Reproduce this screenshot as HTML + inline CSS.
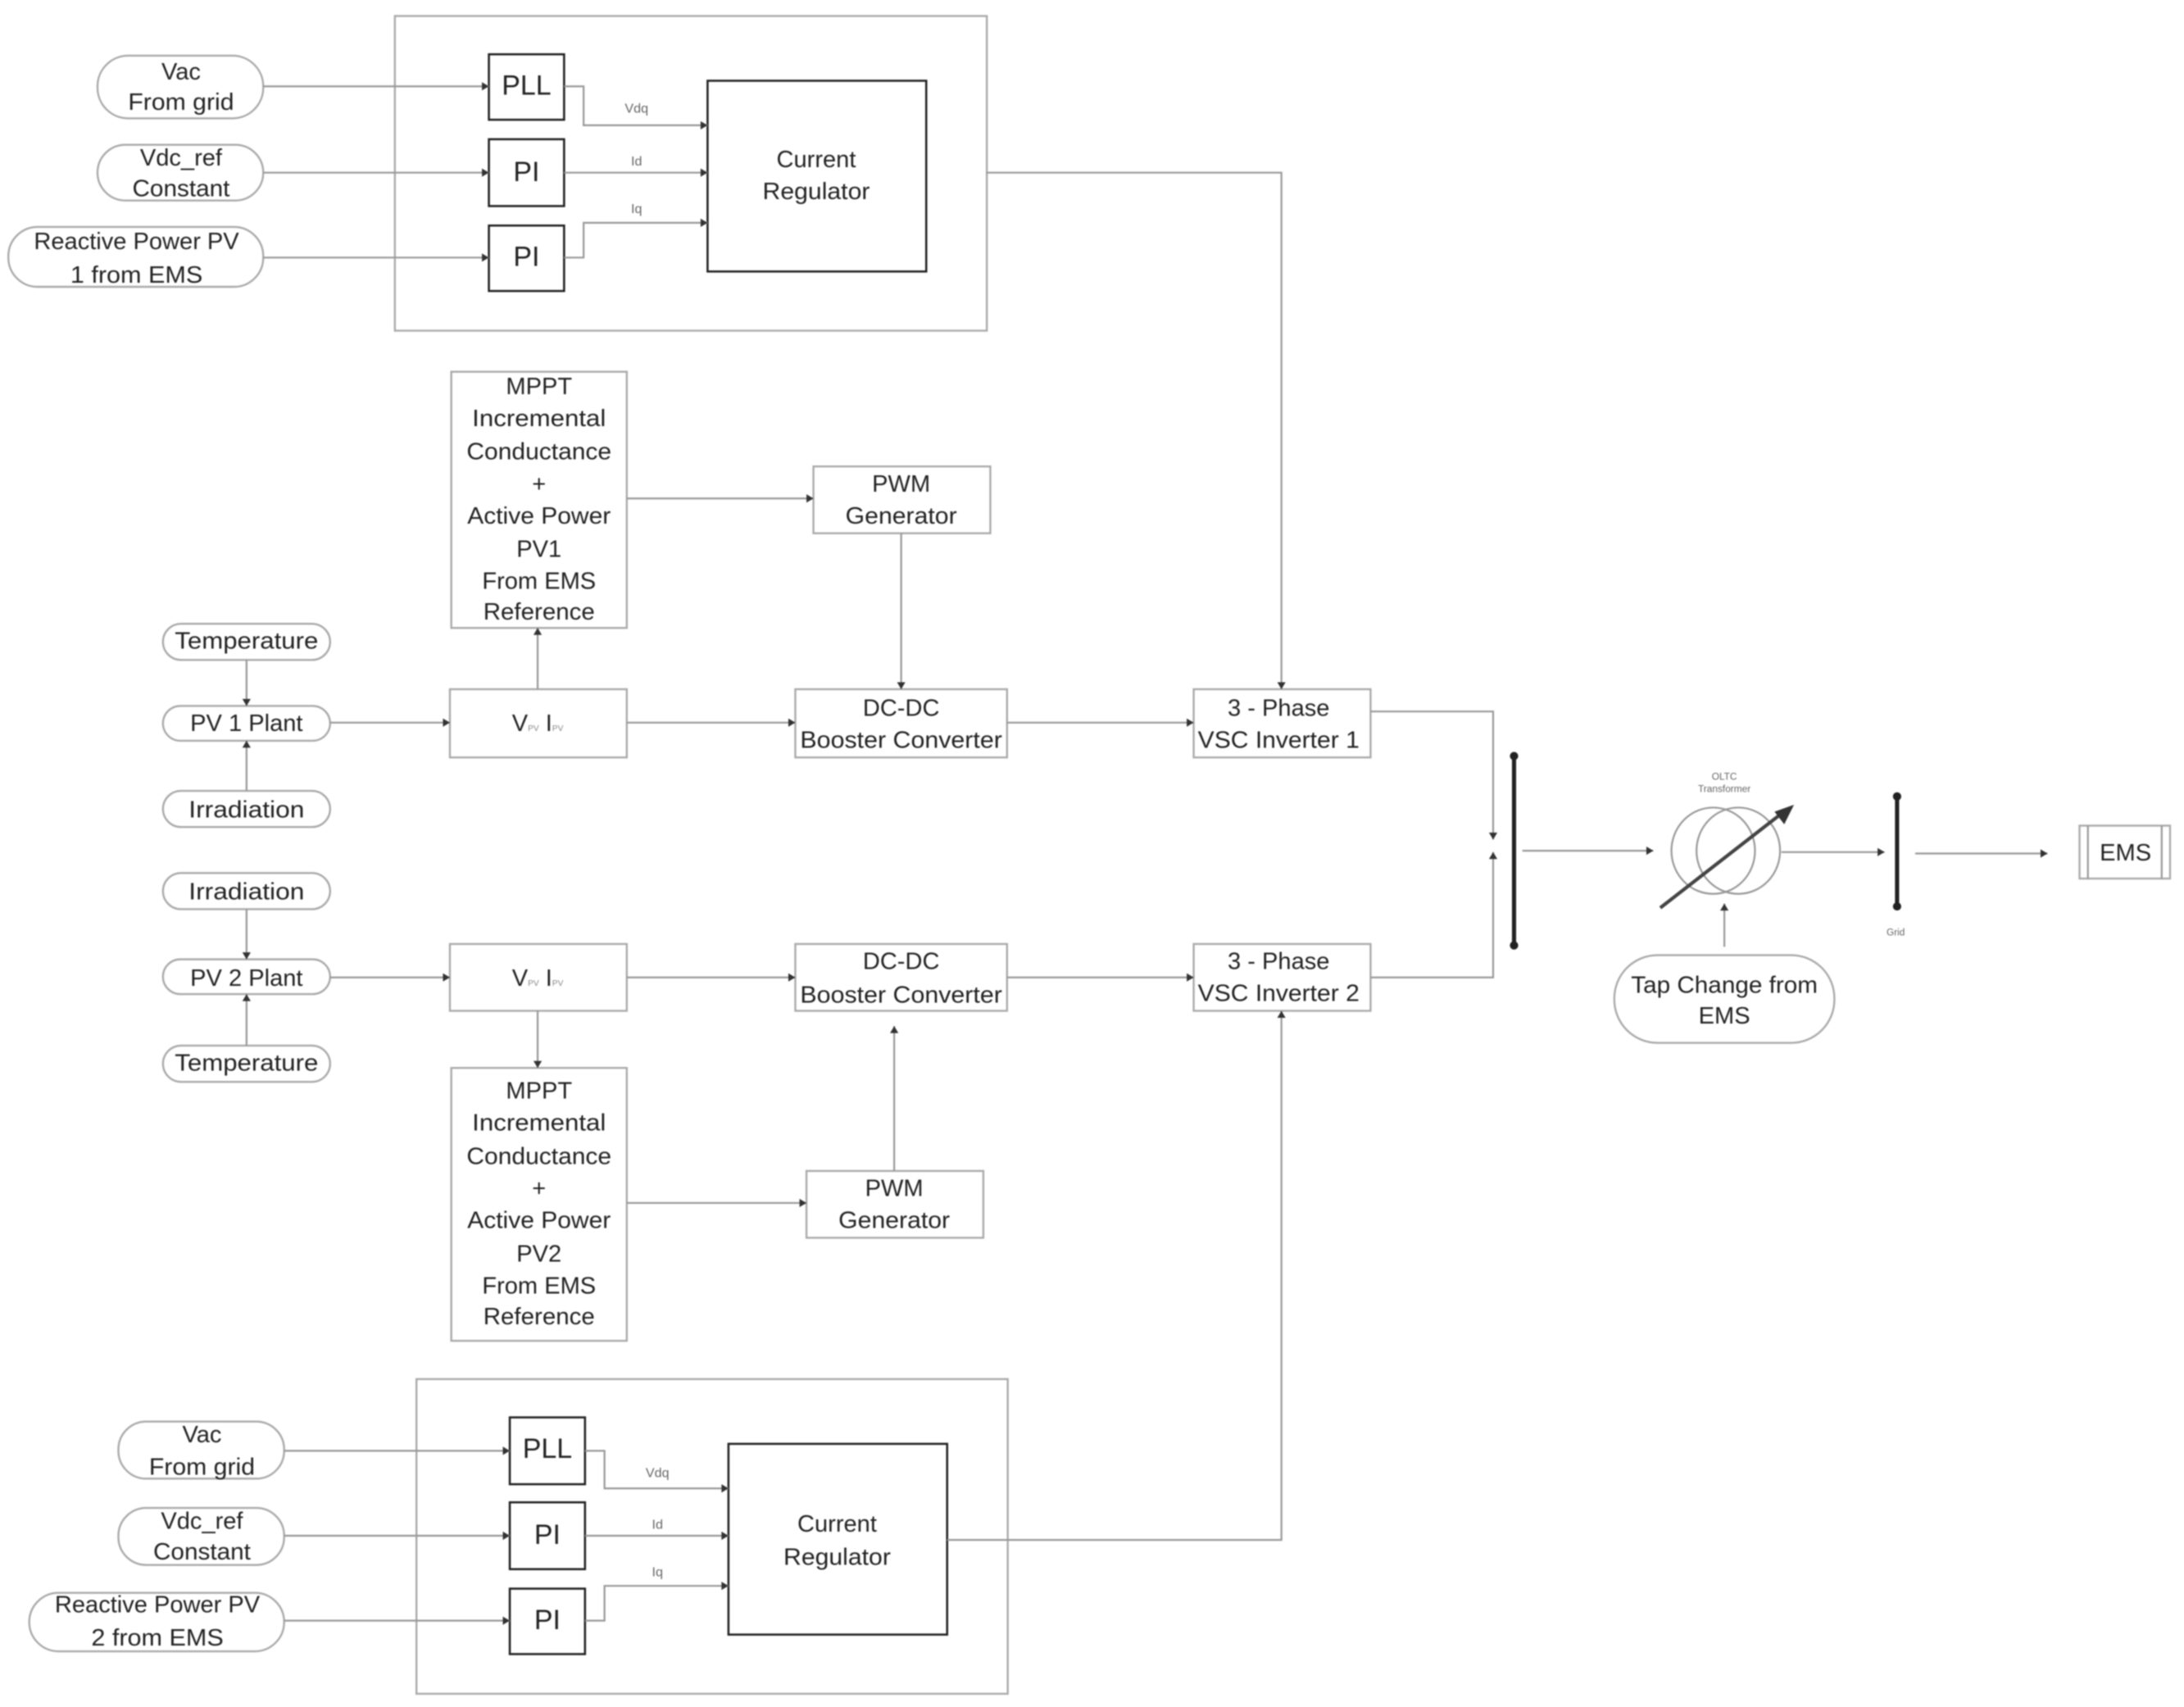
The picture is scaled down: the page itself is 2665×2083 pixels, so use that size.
<!DOCTYPE html>
<html><head><meta charset="utf-8"><style>
html,body{margin:0;padding:0;background:#fff}
svg{display:block;width:2665px;height:2083px;filter:blur(0.9px)}
text{font-family:"Liberation Sans",sans-serif;font-size:17.1px;text-anchor:middle;fill:#222}
.s text{font-size:9.5px;fill:#666}
.box rect{fill:#fff;stroke:#aaa;stroke-width:1.4}
.dark rect{fill:#fff;stroke:#222;stroke-width:1.5}
.l path{fill:none;stroke:#999;stroke-width:1.3}
.h path{fill:#333;stroke:none}
</style></head><body>
<svg viewBox="0 0 1568 1226" preserveAspectRatio="none" xmlns="http://www.w3.org/2000/svg">
<g class="box">
<rect x="283.500" y="11.500" width="425" height="226"/>
<rect x="299" y="990.500" width="424.500" height="226"/>
<rect x="70" y="40" width="119" height="45" rx="22"/>
<rect x="70" y="104" width="119" height="40" rx="20"/>
<rect x="6" y="163" width="183" height="43" rx="21"/>
<rect x="85" y="1021" width="119" height="41" rx="20"/>
<rect x="85" y="1083" width="119" height="41" rx="20"/>
<rect x="21" y="1144" width="183" height="42" rx="21"/>
<rect x="117" y="448" width="120" height="26" rx="13"/>
<rect x="117" y="507" width="120" height="25" rx="12.500"/>
<rect x="117" y="568" width="120" height="26" rx="13"/>
<rect x="117" y="627" width="120" height="26" rx="13"/>
<rect x="117" y="689" width="120" height="25" rx="12.500"/>
<rect x="117" y="751" width="120" height="26" rx="13"/>
<rect x="324" y="267" width="126" height="184"/>
<rect x="324" y="767" width="126" height="196"/>
<rect x="584" y="335" width="127" height="48"/>
<rect x="579" y="841" width="127" height="48"/>
<rect x="323" y="495" width="127" height="49"/>
<rect x="323" y="678" width="127" height="48"/>
<rect x="571" y="495" width="152" height="49"/>
<rect x="571" y="678" width="152" height="48"/>
<rect x="857" y="495" width="127" height="49"/>
<rect x="857" y="678" width="127" height="48"/>
<rect x="1159" y="686" width="158" height="63" rx="31"/>
<rect x="1493" y="593" width="65" height="38"/>
</g>
<g class="dark">
<rect x="351" y="39" width="54" height="47"/>
<rect x="351" y="100" width="54" height="48"/>
<rect x="351" y="162" width="54" height="47"/>
<rect x="508" y="58" width="157" height="137"/>
<rect x="366" y="1018" width="54" height="48"/>
<rect x="366" y="1079" width="54" height="48"/>
<rect x="366" y="1141" width="54" height="47"/>
<rect x="523" y="1037" width="157" height="137"/>
</g>
<g class="l">
<path d="M189 62H351M189 124H351M189 185H351M405 62H419V90H508M405 124H508M405 185H419V160H508"/>
<path d="M204 1042H366M204 1103H366M204 1164H366M420 1042H434V1069H523M420 1103H523M420 1164H434V1139H523"/>
<path d="M708 124H920V495M680 1106H920V726"/>
<path d="M450 358H584M647 383V495M386 495V451M177 474V507M177 568V532M237 519H323M450 519H571M723 519H857"/>
<path d="M177 653V689M177 751V714M237 702H323M450 702H571M723 702H857M386 726V767M450 864H579M642 841V737"/>
<path d="M984 511H1072V603M984 702H1072V612"/>
<path d="M1093 611H1187M1279 612H1353M1375 613H1470M1238 680V649M1499 593V631M1552 593V631"/>
<ellipse cx="1230" cy="611" rx="30" ry="31" fill="none" stroke="#999" stroke-width="1.300"/>
<ellipse cx="1248" cy="611" rx="30" ry="31" fill="none" stroke="#999" stroke-width="1.300"/>
</g>
<path d="M1192 652L1282 582" stroke="#444" stroke-width="2.500" fill="none"/>
<path d="M1288 578L1274 583L1281 592Z" fill="#333"/>
<path d="M1087 543V679M1362 572V651" stroke="#222" stroke-width="3" fill="none"/>
<g fill="#222"><circle cx="1087" cy="543" r="3"/><circle cx="1087" cy="679" r="3"/><circle cx="1362" cy="572" r="3"/><circle cx="1362" cy="651" r="3"/></g>
<g class="h">
<path d="M351 62l-5-3v6zM351 124l-5-3v6zM351 185l-5-3v6zM508 90l-5-3v6zM508 124l-5-3v6zM508 160l-5-3v6z"/>
<path d="M366 1042l-5-3v6zM366 1103l-5-3v6zM366 1164l-5-3v6zM523 1069l-5-3v6zM523 1103l-5-3v6zM523 1139l-5-3v6z"/>
<path d="M920 495l-3-5h6zM920 726l-3 5h6zM584 358l-5-3v6zM647 495l-3-5h6zM386 451l-3 5h6zM177 507l-3-5h6zM177 532l-3 5h6zM323 519l-5-3v6zM571 519l-5-3v6zM857 519l-5-3v6z"/>
<path d="M177 689l-3-5h6zM177 714l-3 5h6zM323 702l-5-3v6zM571 702l-5-3v6zM857 702l-5-3v6zM386 767l-3-5h6zM579 864l-5-3v6zM642 737l-3 5h6z"/>
<path d="M1072 603l-3-5h6zM1072 612l-3 5h6zM1187 611l-5-3v6zM1353 612l-5-3v6zM1470 613l-5-3v6zM1238 649l-3 5h6z"/>
</g>
<g lengthAdjust="spacingAndGlyphs">
<text x="130" y="57">Vac</text><text x="130" y="79" textLength="76" lengthAdjust="spacingAndGlyphs">From grid</text>
<text x="130" y="119">Vdc_ref</text><text x="130" y="141" textLength="70" lengthAdjust="spacingAndGlyphs">Constant</text>
<text x="98" y="179">Reactive Power PV</text><text x="98" y="203" textLength="95" lengthAdjust="spacingAndGlyphs">1 from EMS</text>
<text x="145" y="1036">Vac</text><text x="145" y="1059" textLength="76" lengthAdjust="spacingAndGlyphs">From grid</text>
<text x="145" y="1098">Vdc_ref</text><text x="145" y="1120" textLength="70" lengthAdjust="spacingAndGlyphs">Constant</text>
<text x="113" y="1158">Reactive Power PV</text><text x="113" y="1182" textLength="95" lengthAdjust="spacingAndGlyphs">2 from EMS</text>
<text x="378" y="68" style="font-size:20px">PLL</text><text x="378" y="130" style="font-size:20px">PI</text><text x="378" y="191" style="font-size:20px">PI</text>
<text x="393" y="1047" style="font-size:20px">PLL</text><text x="393" y="1109" style="font-size:20px">PI</text><text x="393" y="1170" style="font-size:20px">PI</text>
<text x="586" y="120">Current</text><text x="586" y="143" textLength="77" lengthAdjust="spacingAndGlyphs">Regulator</text>
<text x="601" y="1100">Current</text><text x="601" y="1124" textLength="77" lengthAdjust="spacingAndGlyphs">Regulator</text>
<text x="387" y="283">MPPT</text><text x="387" y="306" textLength="96" lengthAdjust="spacingAndGlyphs">Incremental</text><text x="387" y="330" textLength="104" lengthAdjust="spacingAndGlyphs">Conductance</text><text x="387" y="353">+</text><text x="387" y="376" textLength="103" lengthAdjust="spacingAndGlyphs">Active Power</text><text x="387" y="400">PV1</text><text x="387" y="423">From EMS</text><text x="387" y="445" textLength="80" lengthAdjust="spacingAndGlyphs">Reference</text>
<text x="387" y="789">MPPT</text><text x="387" y="812" textLength="96" lengthAdjust="spacingAndGlyphs">Incremental</text><text x="387" y="836" textLength="104" lengthAdjust="spacingAndGlyphs">Conductance</text><text x="387" y="859">+</text><text x="387" y="882" textLength="103" lengthAdjust="spacingAndGlyphs">Active Power</text><text x="387" y="906">PV2</text><text x="387" y="929">From EMS</text><text x="387" y="951" textLength="80" lengthAdjust="spacingAndGlyphs">Reference</text>
<text x="647" y="353">PWM</text><text x="647" y="376" textLength="80" lengthAdjust="spacingAndGlyphs">Generator</text>
<text x="642" y="859">PWM</text><text x="642" y="882" textLength="80" lengthAdjust="spacingAndGlyphs">Generator</text>
<text x="647" y="514">DC-DC</text><text x="647" y="537" textLength="145" lengthAdjust="spacingAndGlyphs">Booster Converter</text>
<text x="647" y="696">DC-DC</text><text x="647" y="720" textLength="145" lengthAdjust="spacingAndGlyphs">Booster Converter</text>
<text x="918" y="514">3 - Phase</text><text x="918" y="537" textLength="116" lengthAdjust="spacingAndGlyphs">VSC Inverter 1</text>
<text x="918" y="696">3 - Phase</text><text x="918" y="719" textLength="116" lengthAdjust="spacingAndGlyphs">VSC Inverter 2</text>
<text x="177" y="466" textLength="103" lengthAdjust="spacingAndGlyphs">Temperature</text><text x="177" y="525">PV 1 Plant</text><text x="177" y="587" textLength="83" lengthAdjust="spacingAndGlyphs">Irradiation</text>
<text x="177" y="646" textLength="83" lengthAdjust="spacingAndGlyphs">Irradiation</text><text x="177" y="708">PV 2 Plant</text><text x="177" y="769" textLength="103" lengthAdjust="spacingAndGlyphs">Temperature</text>
<text x="386" y="525">V<tspan style="font-size:6px" fill="#888">PV</tspan> I<tspan style="font-size:6px" fill="#888">PV</tspan></text>
<text x="386" y="708">V<tspan style="font-size:6px" fill="#888">PV</tspan> I<tspan style="font-size:6px" fill="#888">PV</tspan></text>
<text x="1238" y="713" textLength="134" lengthAdjust="spacingAndGlyphs">Tap Change from</text><text x="1238" y="735">EMS</text>
<text x="1526" y="618">EMS</text>
</g>
<g class="s">
<text x="457" y="81">Vdq</text><text x="457" y="119">Id</text><text x="457" y="153">Iq</text>
<text x="472" y="1061">Vdq</text><text x="472" y="1098">Id</text><text x="472" y="1132">Iq</text>
<text x="1238" y="560" style="font-size:7px">OLTC</text><text x="1238" y="569" style="font-size:7px">Transformer</text>
<text x="1361" y="672" style="font-size:7px">Grid</text>
</g>
</svg>
</body></html>
